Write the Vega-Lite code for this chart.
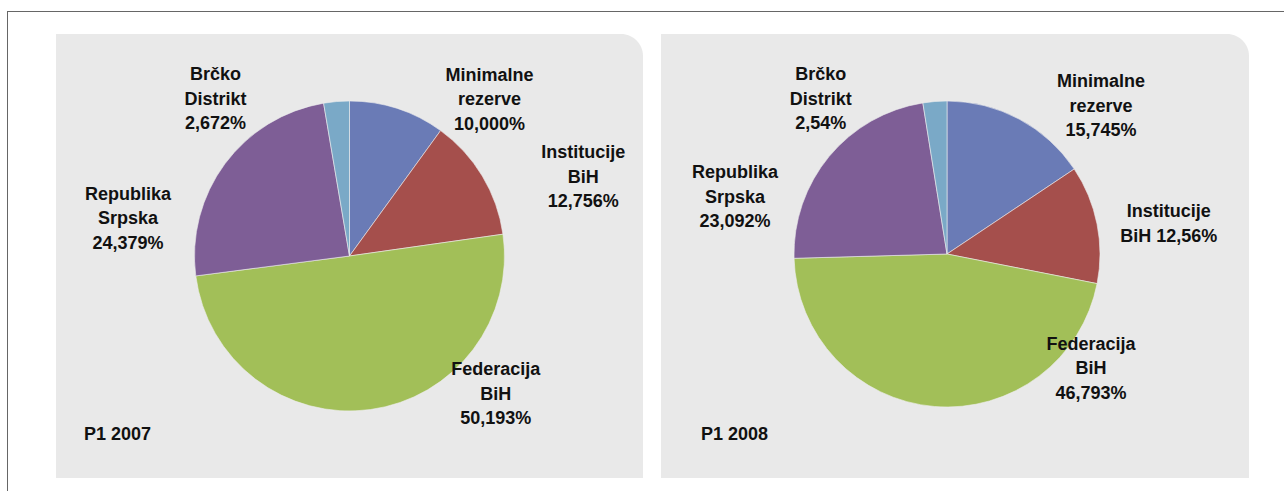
{
  "$schema": "https://vega.github.io/schema/vega-lite/v6.json",
  "padding": {"left": 7, "top": 11, "right": 0, "bottom": 0},
  "background": "white",
  "config": {
    "view": {"stroke": null},
    "text": {"font": "Liberation Sans", "fontSize": 18, "fontWeight": "bold", "color": "#111"},
    "title": {"font": "Liberation Sans", "fontSize": 18, "fontWeight": "bold", "color": "#111"}
  },
  "datasets": {
    "p2007": [
      {"category": "Minimalne rezerve", "value": 10.0, "ord": 1, "label": "Minimalne\nrezerve\n10,000%"},
      {"category": "Institucije BiH", "value": 12.756, "ord": 2, "label": "Institucije\nBiH\n12,756%"},
      {"category": "Federacija BiH", "value": 50.193, "ord": 3, "label": "Federacija\nBiH\n50,193%"},
      {"category": "Republika Srpska", "value": 24.379, "ord": 4, "label": "Republika\nSrpska\n24,379%"},
      {"category": "Brčko Distrikt", "value": 2.672, "ord": 5, "label": "Brčko\nDistrikt\n2,672%"}
    ],
    "p2008": [
      {"category": "Minimalne rezerve", "value": 15.745, "ord": 1, "label": "Minimalne\nrezerve\n15,745%"},
      {"category": "Institucije BiH", "value": 12.56, "ord": 2, "label": "Institucije\nBiH 12,56%"},
      {"category": "Federacija BiH", "value": 46.793, "ord": 3, "label": "Federacija\nBiH\n46,793%"},
      {"category": "Republika Srpska", "value": 23.092, "ord": 4, "label": "Republika\nSrpska\n23,092%"},
      {"category": "Brčko Distrikt", "value": 2.54, "ord": 5, "label": "Brčko\nDistrikt\n2,54%"}
    ]
  },
  "spacing": 0,
  "bounds": "flush",
  "hconcat": [
    {
      "width": 1, "height": 480,
      "view": {"fill": "#666", "stroke": null},
      "data": {"values": [{"k": 1}]},
      "mark": {"type": "point", "size": 0, "strokeWidth": 0, "opacity": 0}
    },
    {
      "spacing": 22,
      "bounds": "flush",
      "vconcat": [
        {
          "width": 1277, "height": 1,
          "view": {"fill": "#666", "stroke": null},
          "data": {"values": [{"k": 1}]},
          "mark": {"type": "point", "size": 0, "strokeWidth": 0, "opacity": 0}
        },
        {
          "spacing": 18,
          "bounds": "flush",
          "hconcat": [
            {
              "width": 30, "height": 444,
              "data": {"values": [{"k": 1}]},
              "mark": {"type": "point", "size": 0, "strokeWidth": 0, "opacity": 0}
            },
            {
              "width": 587, "height": 444,
              "title": {"text": "P1 2007", "orient": "bottom", "anchor": "start", "baseline": "middle", "offset": -43, "dx": 28},
              "layer": [
                {
                  "data": {"values": [{"panel": "P1 2007"}]},
                  "mark": {"type": "rect", "color": "#e9e9e9", "cornerRadiusTopRight": 22},
                  "encoding": {"x": {"value": 0}, "x2": {"value": "width"}, "y": {"value": 0}, "y2": {"value": "height"}}
                },
                {
                  "data": {"name": "p2007"},
                  "transform": [{"stack": "value", "groupby": [], "offset": "normalize", "sort": [{"field": "ord", "order": "ascending"}], "as": ["v0", "v1"]}],
                  "mark": {"type": "arc", "outerRadius": 155, "stroke": "#eeeeee", "strokeWidth": 0.6},
                  "encoding": {
                    "theta": {"field": "v0", "type": "quantitative", "scale": {"domain": [0, 1]}},
                    "theta2": {"field": "v1"},
                    "color": {"field": "category", "type": "nominal", "legend": null,
                      "scale": {"domain": ["Minimalne rezerve", "Institucije BiH", "Federacija BiH", "Republika Srpska", "Brčko Distrikt"],
                                "range": ["#6a7bb6", "#a54f4c", "#a2bf58", "#7e5e96", "#7aa9c7"]}}
                  }
                },
                {
                  "data": {"name": "p2007"},
                  "transform": [{"stack": "value", "groupby": [], "offset": "normalize", "sort": [{"field": "ord", "order": "ascending"}], "as": ["v0", "v1"]}, {"filter": "datum.category === 'Minimalne rezerve'"}],
                  "mark": {"type": "text", "lineBreak": "\n", "lineHeight": 24.5, "align": "center", "baseline": "middle", "radius": 185, "dx": 140, "dy": 4.5},
                  "encoding": {"theta": {"field": "v0", "type": "quantitative", "scale": {"domain": [0, 1]}}, "text": {"field": "label"}}
                },
                {
                  "data": {"name": "p2007"},
                  "transform": [{"stack": "value", "groupby": [], "offset": "normalize", "sort": [{"field": "ord", "order": "ascending"}], "as": ["v0", "v1"]}, {"filter": "datum.category === 'Institucije BiH'"}],
                  "mark": {"type": "text", "lineBreak": "\n", "lineHeight": 24.5, "align": "center", "baseline": "middle", "radius": 185, "dx": 125, "dy": 47},
                  "encoding": {"theta": {"field": "v0", "type": "quantitative", "scale": {"domain": [0, 1]}}, "text": {"field": "label"}}
                },
                {
                  "data": {"name": "p2007"},
                  "transform": [{"stack": "value", "groupby": [], "offset": "normalize", "sort": [{"field": "ord", "order": "ascending"}], "as": ["v0", "v1"]}, {"filter": "datum.category === 'Federacija BiH'"}],
                  "mark": {"type": "text", "lineBreak": "\n", "lineHeight": 24.5, "align": "center", "baseline": "middle", "radius": 185, "dx": -37, "dy": 140},
                  "encoding": {"theta": {"field": "v0", "type": "quantitative", "scale": {"domain": [0, 1]}}, "text": {"field": "label"}}
                },
                {
                  "data": {"name": "p2007"},
                  "transform": [{"stack": "value", "groupby": [], "offset": "normalize", "sort": [{"field": "ord", "order": "ascending"}], "as": ["v0", "v1"]}, {"filter": "datum.category === 'Republika Srpska'"}],
                  "mark": {"type": "text", "lineBreak": "\n", "lineHeight": 24.5, "align": "center", "baseline": "middle", "radius": 185, "dx": -38, "dy": -85},
                  "encoding": {"theta": {"field": "v0", "type": "quantitative", "scale": {"domain": [0, 1]}}, "text": {"field": "label"}}
                },
                {
                  "data": {"name": "p2007"},
                  "transform": [{"stack": "value", "groupby": [], "offset": "normalize", "sort": [{"field": "ord", "order": "ascending"}], "as": ["v0", "v1"]}, {"filter": "datum.category === 'Brčko Distrikt'"}],
                  "mark": {"type": "text", "lineBreak": "\n", "lineHeight": 24.5, "align": "center", "baseline": "middle", "radius": 185, "dx": -103, "dy": 1.5},
                  "encoding": {"theta": {"field": "v0", "type": "quantitative", "scale": {"domain": [0, 1]}}, "text": {"field": "label"}}
                }
              ]
            },
            {
              "width": 588, "height": 444,
              "title": {"text": "P1 2008", "orient": "bottom", "anchor": "start", "baseline": "middle", "offset": -43, "dx": 40},
              "layer": [
                {
                  "data": {"values": [{"panel": "P1 2008"}]},
                  "mark": {"type": "rect", "color": "#e9e9e9", "cornerRadiusTopRight": 22},
                  "encoding": {"x": {"value": 0}, "x2": {"value": "width"}, "y": {"value": 0}, "y2": {"value": "height"}}
                },
                {
                  "data": {"name": "p2008"},
                  "transform": [{"stack": "value", "groupby": [], "offset": "normalize", "sort": [{"field": "ord", "order": "ascending"}], "as": ["v0", "v1"]}],
                  "mark": {"type": "arc", "outerRadius": 153, "stroke": "#eeeeee", "strokeWidth": 0.6, "xOffset": -8, "yOffset": -2},
                  "encoding": {
                    "theta": {"field": "v0", "type": "quantitative", "scale": {"domain": [0, 1]}},
                    "theta2": {"field": "v1"},
                    "color": {"field": "category", "type": "nominal", "legend": null,
                      "scale": {"domain": ["Minimalne rezerve", "Institucije BiH", "Federacija BiH", "Republika Srpska", "Brčko Distrikt"],
                                "range": ["#6a7bb6", "#a54f4c", "#a2bf58", "#7e5e96", "#7aa9c7"]}}
                  }
                },
                {
                  "data": {"name": "p2008"},
                  "transform": [{"stack": "value", "groupby": [], "offset": "normalize", "sort": [{"field": "ord", "order": "ascending"}], "as": ["v0", "v1"]}, {"filter": "datum.category === 'Minimalne rezerve'"}],
                  "mark": {"type": "text", "lineBreak": "\n", "lineHeight": 24.5, "align": "center", "baseline": "middle", "radius": 185, "dx": 146, "dy": 11},
                  "encoding": {"theta": {"field": "v0", "type": "quantitative", "scale": {"domain": [0, 1]}}, "text": {"field": "label"}}
                },
                {
                  "data": {"name": "p2008"},
                  "transform": [{"stack": "value", "groupby": [], "offset": "normalize", "sort": [{"field": "ord", "order": "ascending"}], "as": ["v0", "v1"]}, {"filter": "datum.category === 'Institucije BiH'"}],
                  "mark": {"type": "text", "lineBreak": "\n", "lineHeight": 24.5, "align": "center", "baseline": "middle", "radius": 185, "dx": 60, "dy": 59},
                  "encoding": {"theta": {"field": "v0", "type": "quantitative", "scale": {"domain": [0, 1]}}, "text": {"field": "label"}}
                },
                {
                  "data": {"name": "p2008"},
                  "transform": [{"stack": "value", "groupby": [], "offset": "normalize", "sort": [{"field": "ord", "order": "ascending"}], "as": ["v0", "v1"]}, {"filter": "datum.category === 'Federacija BiH'"}],
                  "mark": {"type": "text", "lineBreak": "\n", "lineHeight": 24.5, "align": "center", "baseline": "middle", "radius": 185, "dx": -45.5, "dy": 53},
                  "encoding": {"theta": {"field": "v0", "type": "quantitative", "scale": {"domain": [0, 1]}}, "text": {"field": "label"}}
                },
                {
                  "data": {"name": "p2008"},
                  "transform": [{"stack": "value", "groupby": [], "offset": "normalize", "sort": [{"field": "ord", "order": "ascending"}], "as": ["v0", "v1"]}, {"filter": "datum.category === 'Republika Srpska'"}],
                  "mark": {"type": "text", "lineBreak": "\n", "lineHeight": 24.5, "align": "center", "baseline": "middle", "radius": 185, "dx": -35, "dy": -88},
                  "encoding": {"theta": {"field": "v0", "type": "quantitative", "scale": {"domain": [0, 1]}}, "text": {"field": "label"}}
                },
                {
                  "data": {"name": "p2008"},
                  "transform": [{"stack": "value", "groupby": [], "offset": "normalize", "sort": [{"field": "ord", "order": "ascending"}], "as": ["v0", "v1"]}, {"filter": "datum.category === 'Brčko Distrikt'"}],
                  "mark": {"type": "text", "lineBreak": "\n", "lineHeight": 24.5, "align": "center", "baseline": "middle", "radius": 185, "dx": -105, "dy": 2},
                  "encoding": {"theta": {"field": "v0", "type": "quantitative", "scale": {"domain": [0, 1]}}, "text": {"field": "label"}}
                }
              ]
            }
          ]
        }
      ]
    }
  ]
}
